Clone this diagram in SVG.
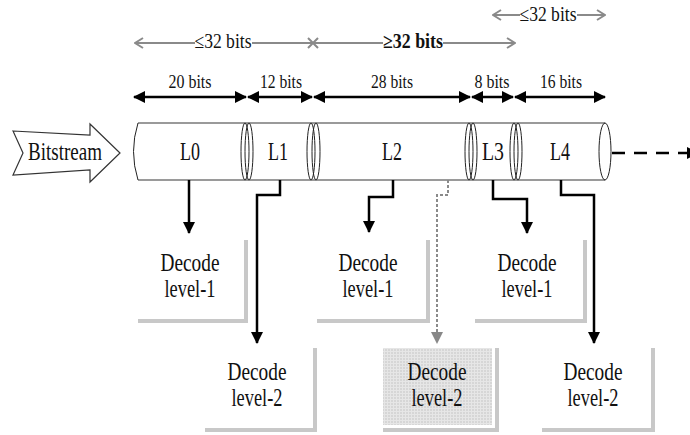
<svg xmlns="http://www.w3.org/2000/svg" width="690" height="435" viewBox="0 0 690 435">
<style>
.t{font-family:"Liberation Serif","Times New Roman",serif;fill:#111;text-anchor:middle}
.d{font-size:25px}
.b{font-size:19px}
.g{font-size:20px}
.gl{stroke:#8a8a8a;stroke-width:2;fill:none}
.bl{stroke:#000;stroke-width:2.5;fill:none}
.con{stroke:#000;stroke-width:2.5;fill:none}
.sh{fill:#c8c8c8}
.cyl{stroke:#9a9a9a;stroke-width:2;fill:none}
.el{stroke:#222;stroke-width:1;fill:none}
</style>
<defs>
<marker id="ah" viewBox="0 0 12 12" refX="11" refY="6" markerWidth="12" markerHeight="12" markerUnits="userSpaceOnUse" orient="auto-start-reverse"><path d="M0,0 L12,6 L0,12 z" fill="#000"/></marker>
<marker id="ahg" viewBox="0 0 12 12" refX="11" refY="6" markerWidth="12" markerHeight="12" markerUnits="userSpaceOnUse" orient="auto-start-reverse"><path d="M0,0 L12,6 L0,12 z" fill="#888"/></marker>
<marker id="oa" viewBox="0 0 10 12" refX="9" refY="6" markerWidth="10" markerHeight="12" markerUnits="userSpaceOnUse" orient="auto-start-reverse"><path d="M1,1 L9,6 L1,11" fill="none" stroke="#8a8a8a" stroke-width="2"/></marker>
<pattern id="grid" width="3" height="3" patternUnits="userSpaceOnUse"><rect width="3" height="3" fill="#d6d6d6"/><path d="M0,0.5 H3 M0.5,0 V3" stroke="#e6e6e6" stroke-width="1"/></pattern>
</defs>

<!-- top gray span arrows -->
<g id="spans">
<path class="gl" d="M135,43 H195" marker-start="url(#oa)"/>
<path class="gl" d="M252,43 H313"/>
<path class="gl" d="M308,38 L318,48 M308,48 L318,38"/>
<path class="gl" d="M313,43 H383"/>
<path class="gl" d="M443,43 H515" marker-end="url(#oa)"/>
<text class="t g" x="223" y="48" textLength="57" lengthAdjust="spacingAndGlyphs">≤32 bits</text>
<text class="t g" x="413" y="48" font-weight="bold" textLength="60" lengthAdjust="spacingAndGlyphs">≥32 bits</text>
<path class="gl" d="M493,15 H520" marker-start="url(#oa)"/>
<path class="gl" d="M577,15 H605" marker-end="url(#oa)"/>
<text class="t g" x="548" y="21" textLength="57" lengthAdjust="spacingAndGlyphs">≤32 bits</text>
</g>

<!-- black bit length arrows -->
<g id="bitlengths">
<path class="bl" d="M134,97 H246" marker-start="url(#ah)" marker-end="url(#ah)"/>
<path class="bl" d="M248,97 H312" marker-start="url(#ah)" marker-end="url(#ah)"/>
<path class="bl" d="M314,97 H470" marker-start="url(#ah)" marker-end="url(#ah)"/>
<path class="bl" d="M472,97 H513" marker-start="url(#ah)" marker-end="url(#ah)"/>
<path class="bl" d="M515,97 H605" marker-start="url(#ah)" marker-end="url(#ah)"/>
<text class="t b" x="190" y="88" textLength="43" lengthAdjust="spacingAndGlyphs">20 bits</text>
<text class="t b" x="281" y="88" textLength="42" lengthAdjust="spacingAndGlyphs">12 bits</text>
<text class="t b" x="392" y="88" textLength="42" lengthAdjust="spacingAndGlyphs">28 bits</text>
<text class="t b" x="492" y="88" textLength="35" lengthAdjust="spacingAndGlyphs">8 bits</text>
<text class="t b" x="561" y="88" textLength="42" lengthAdjust="spacingAndGlyphs">16 bits</text>
</g>

<!-- bitstream arrow -->
<g id="bitstream">
<path d="M13,131 L90,135 L90,124 L120,153 L90,182 L90,170 L13,175 L23,153 Z" fill="#fff" stroke="#333" stroke-width="1.2"/>
<text class="t" x="65" y="160" font-size="26" textLength="74" lengthAdjust="spacingAndGlyphs">Bitstream</text>
</g>

<!-- cylinder body -->
<g id="stream">
<path d="M138,123 H605 V180 H138 Q130,151.5 138,123 Z" fill="#fff" stroke="none"/>
<path class="cyl" d="M138,123 H605 M138,180 H605"/>
<path class="el" d="M138,123 Q129,151.5 138,180"/>
<path d="M612,153 H698" stroke="#000" stroke-width="2.5" stroke-dasharray="13,9" fill="none" marker-end="url(#ah)"/>
</g>

<g id="L0"><ellipse class="el" cx="245" cy="151.5" rx="4" ry="28.5"/><text class="t d" x="190" y="160" textLength="20" lengthAdjust="spacingAndGlyphs">L0</text></g>
<g id="L1"><ellipse class="el" cx="249" cy="151.5" rx="4" ry="28.5"/><ellipse class="el" cx="311" cy="151.5" rx="4" ry="28.5"/><text class="t d" x="278" y="160" textLength="20" lengthAdjust="spacingAndGlyphs">L1</text></g>
<g id="L2"><ellipse class="el" cx="316" cy="151.5" rx="4" ry="28.5"/><ellipse class="el" cx="469" cy="151.5" rx="4" ry="28.5"/><text class="t d" x="392" y="160" textLength="20" lengthAdjust="spacingAndGlyphs">L2</text></g>
<g id="L3"><ellipse class="el" cx="473" cy="151.5" rx="4" ry="28.5"/><ellipse class="el" cx="514" cy="151.5" rx="4" ry="28.5"/><text class="t d" x="493" y="160" textLength="22" lengthAdjust="spacingAndGlyphs">L3</text></g>
<g id="L4"><ellipse class="el" cx="518" cy="151.5" rx="4" ry="28.5"/><ellipse class="el" cx="605" cy="151.5" rx="6" ry="28.5" fill="#fff"/><text class="t d" x="560" y="160" textLength="20" lengthAdjust="spacingAndGlyphs">L4</text></g>

<!-- connectors -->
<g id="connectors">
<path class="con" d="M189,180 V233" marker-end="url(#ah)"/>
<path class="con" d="M280,180 V195 H257 V343" marker-end="url(#ah)"/>
<path class="con" d="M393,180 V197 H369 V232" marker-end="url(#ah)"/>
<path d="M448,180 V195 H437 V343" fill="none" stroke="#8a8a8a" stroke-width="2" stroke-dasharray="3,2" marker-end="url(#ahg)"/>
<path class="con" d="M493,180 V199 H527 V233" marker-end="url(#ah)"/>
<path class="con" d="M561,180 V195 H594 V343" marker-end="url(#ah)"/>
</g>

<!-- decode boxes -->
<g id="dec1a">
<rect class="sh" x="244" y="240" width="4" height="83"/><rect class="sh" x="138" y="319" width="110" height="4"/>
<text class="t d" x="190" y="271" textLength="59" lengthAdjust="spacingAndGlyphs">Decode</text>
<text class="t d" x="190" y="297" textLength="51" lengthAdjust="spacingAndGlyphs">level-1</text>
</g>
<g id="dec2a">
<rect class="sh" x="313" y="348" width="4" height="84"/><rect class="sh" x="205" y="428" width="112" height="4"/>
<text class="t d" x="257" y="380" textLength="59" lengthAdjust="spacingAndGlyphs">Decode</text>
<text class="t d" x="257" y="406" textLength="51" lengthAdjust="spacingAndGlyphs">level-2</text>
</g>
<g id="dec1b">
<rect class="sh" x="426" y="240" width="4" height="83"/><rect class="sh" x="317" y="319" width="113" height="4"/>
<text class="t d" x="368" y="271" textLength="59" lengthAdjust="spacingAndGlyphs">Decode</text>
<text class="t d" x="368" y="297" textLength="51" lengthAdjust="spacingAndGlyphs">level-1</text>
</g>
<g id="dec2b">
<rect x="383" y="348" width="109" height="77" fill="url(#grid)"/>
<rect class="sh" x="495" y="348" width="4" height="84"/><rect class="sh" x="383" y="428" width="116" height="4"/>
<text class="t d" x="437" y="380" textLength="59" lengthAdjust="spacingAndGlyphs">Decode</text>
<text class="t d" x="437" y="406" textLength="51" lengthAdjust="spacingAndGlyphs">level-2</text>
</g>
<g id="dec1c">
<rect class="sh" x="583" y="240" width="4" height="83"/><rect class="sh" x="475" y="319" width="112" height="4"/>
<text class="t d" x="527" y="271" textLength="59" lengthAdjust="spacingAndGlyphs">Decode</text>
<text class="t d" x="527" y="297" textLength="51" lengthAdjust="spacingAndGlyphs">level-1</text>
</g>
<g id="dec2c">
<rect class="sh" x="651" y="348" width="4" height="84"/><rect class="sh" x="542" y="428" width="113" height="4"/>
<text class="t d" x="593" y="380" textLength="59" lengthAdjust="spacingAndGlyphs">Decode</text>
<text class="t d" x="593" y="406" textLength="51" lengthAdjust="spacingAndGlyphs">level-2</text>
</g>
</svg>
